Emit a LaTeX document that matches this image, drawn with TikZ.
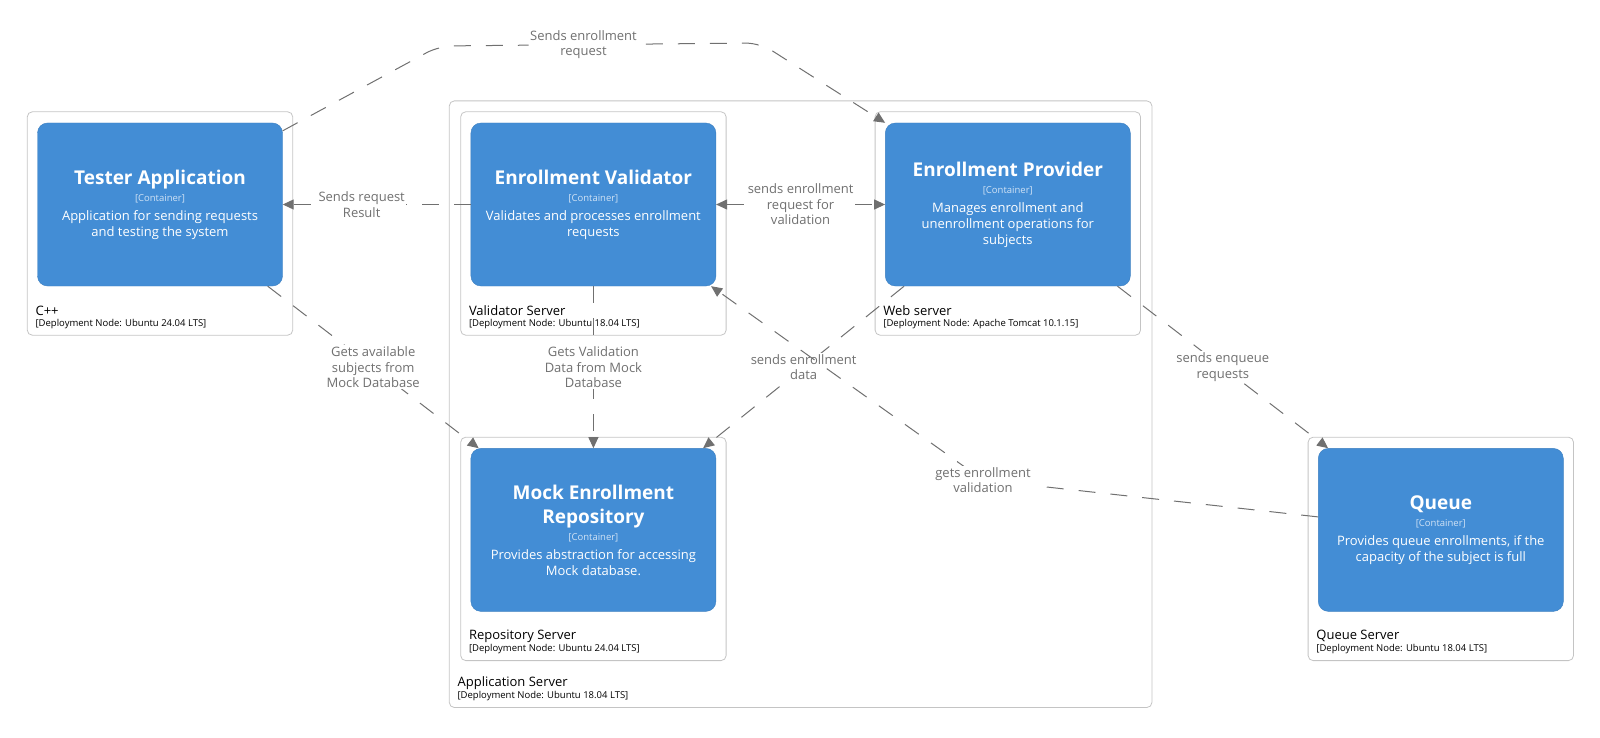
\documentclass[tikz,border=0pt]{standalone}
\usepackage{fontspec}
\setmainfont{Open Sans}
\usepackage{xcolor}
\usetikzlibrary{arrows.meta,positioning,fit}

\definecolor{contblue}{HTML}{438DD5}
\definecolor{contedge}{HTML}{3C7FC0}
\definecolor{depedge}{HTML}{C4C4C4}
\definecolor{relgray}{HTML}{707070}

\newcommand{\titlefont}{\fontsize{19}{23}\selectfont\bfseries}
\newcommand{\tagfont}{\fontsize{9.5}{13}\selectfont\color{white!75!contblue}}
\newcommand{\contbody}[2]{\titlefont #1\\[1pt]\tagfont [Container]\\[3pt]#2}

% name and technology of a deployment node, at its lower left corner
\newcommand{\deplabel}[3]{%
  \node[depname, anchor=west] (#1-name) at ([shift={(8.5pt,25pt)}]#1.south west) {#2};
  \node[deptech, anchor=west] (#1-tech) at ([shift={(8.5pt,11.5pt)}]#1.south west) {#3};}

\begin{document}
\begin{tikzpicture}[
  x=1pt, y=-1pt,
  >={Triangle[length=11pt,width=10pt]},
  container/.style={draw=contedge, fill=contblue, rounded corners=10pt, minimum width=245pt, minimum height=163pt, inner sep=0pt, align=center, text=white, font=\fontsize{13}{16}\selectfont},
  depbox/.style={draw=depedge, line width=0.8pt, rounded corners=5pt, inner xsep=10pt, inner ysep=11pt},
  depname/.style={font=\fontsize{13}{15}\selectfont, inner sep=0pt},
  deptech/.style={font=\fontsize{9.5}{11}\selectfont, inner sep=0pt},
  rel/.style={draw=relgray, line width=1pt, dash pattern=on 17pt off 15pt, ->},
  lbl/.style={fill=white, text=relgray, font=\fontsize{13}{15.5}\selectfont, align=center, inner sep=1.5pt}
]
\useasboundingbox (0,0) rectangle (1600,738);

% containers
\node[container] (tester) at (160,204.5) {\contbody{Tester Application}{Application for sending requests\\and testing the system}};
\node[container, right=188pt of tester] (validator) {\contbody{Enrollment Validator}{Validates and processes enrollment\\requests}};
\node[container, right=169pt of validator] (provider) {\contbody{Enrollment Provider}{Manages enrollment and\\unenrollment operations for\\subjects}};
\node[container, below=162pt of validator] (repository) {\contbody{Mock Enrollment\\[8pt]\titlefont Repository}{Provides abstraction for accessing\\Mock database.}};
\node[container, right=602pt of repository] (queue) {\contbody{Queue}{Provides queue enrollments, if the\\capacity of the subject is full}};

% deployment nodes
\node[depbox, fit={(tester) ([yshift=-38pt]tester.south)}] (testerdep) {};
\node[depbox, fit={(validator) ([yshift=-38pt]validator.south)}] (validatordep) {};
\node[depbox, fit={(provider) ([yshift=-38pt]provider.south)}] (providerdep) {};
\node[depbox, fit={(repository) ([yshift=-38pt]repository.south)}] (repositorydep) {};
\node[depbox, fit={(queue) ([yshift=-38pt]queue.south)}] (queuedep) {};
\node[depbox, inner xsep=11pt, inner ysep=10.5pt, fit={(validatordep) (providerdep) ([yshift=-36pt]repositorydep.south)}] (appserver) {};

\deplabel{testerdep}{C++}{[Deployment Node: Ubuntu 24.04 LTS]}
\deplabel{validatordep}{Validator Server}{[Deployment Node: Ubuntu 18.04 LTS]}
\deplabel{providerdep}{Web server}{[Deployment Node: Apache Tomcat 10.1.15]}
\deplabel{repositorydep}{Repository Server}{[Deployment Node: Ubuntu 24.04 LTS]}
\deplabel{queuedep}{Queue Server}{[Deployment Node: Ubuntu 18.04 LTS]}
\deplabel{appserver}{Application Server}{[Deployment Node: Ubuntu 18.04 LTS]}

% relationships
\coordinate (bendA) at (439,46);
\coordinate (bendB) at (760,43);
\coordinate (bendC) at (983,480);

\draw[rel, rounded corners=14pt] ([yshift=-8pt]tester.north east) -- (bendA) -- node[lbl, pos=0.45] {Sends enrollment\\request} (bendB) -- (provider.north west);
\draw[rel] (validator.west) -- node[lbl, pos=0.58] {Sends request\\Result} (tester.east);
\draw[rel, <->] (validator.east) -- node[lbl] {sends enrollment\\request for\\validation} (provider.west);
\draw[rel] ([xshift=-15pt]tester.south east) -- node[lbl] {Gets available\\subjects from\\Mock Database} ([xshift=8pt]repository.north west);
\draw[rel] (validator.south) -- node[lbl] {Gets Validation\\Data from Mock\\Database} (repository.north);
\draw[rel] ([xshift=19pt]provider.south west) -- node[lbl] {sends enrollment\\data} ([xshift=-13pt]repository.north east);
\draw[rel] ([yshift=13pt]queue.west) -- node[lbl, pos=1] {gets enrollment\\validation} (bendC) -- ([xshift=-5pt]validator.south east);
\draw[rel] ([xshift=-13pt]provider.south east) -- node[lbl] {sends enqueue\\requests} ([xshift=10pt]queue.north west);
\end{tikzpicture}
\end{document}
